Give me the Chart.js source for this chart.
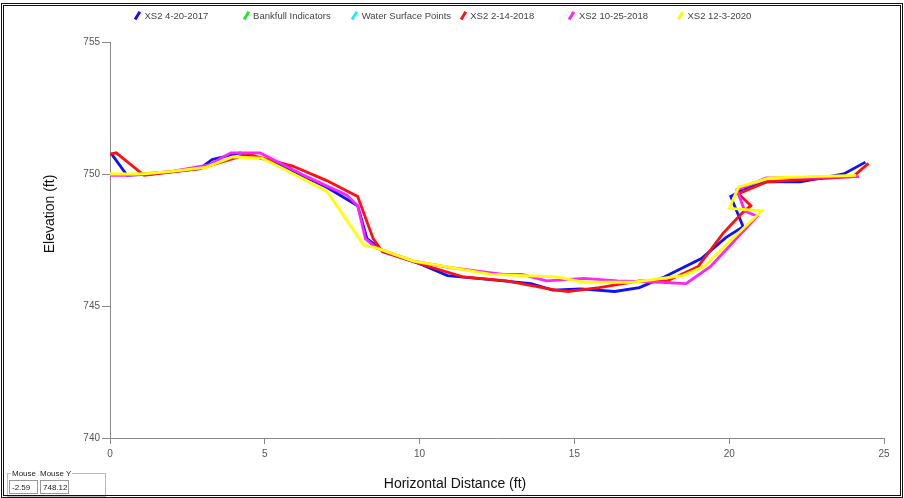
<!DOCTYPE html>
<html>
<head>
<meta charset="utf-8">
<script src="https://cdn.jsdelivr.net/npm/chart.js@4/dist/chart.umd.min.js"></script>
<style>
  body { margin: 0; background: #fff; font-family: "Liberation Sans", Arial, sans-serif; }
  #wrap { position: relative; width: 904px; height: 498px; overflow: hidden; }
  #frame { position: absolute; left: 1px; top: 3px; width: 896px; height: 489px; border: 3px double #111; pointer-events: none; }
  #legend { position: absolute; left: 133px; top: 10px; display: grid; grid-template-columns: repeat(6, 108.6px); font-size: 9.5px; color: #444; }
  .item { display: flex; align-items: center; white-space: nowrap; }
  .icon { display: inline-block; width: 2.5px; height: 9px; margin: 0 6px 0 3px; transform: rotate(32deg); }
  #mouse { position: absolute; left: 7px; top: 473px; width: 97px; height: 22px; border: 1px solid #bbb; font-size: 8px; color: #222; }
  #mouse .lbl { position: absolute; top: -5px; background: #fff; padding: 0 1px; }
  #mouse .val { position: absolute; top: 6px; height: 14px; border: 1px solid #999; line-height: 13px; padding-left: 2px; box-sizing: border-box; }
</style>
</head>
<body>
<div id="wrap">
  <canvas id="chart" width="904" height="498"></canvas>
  <div id="legend"></div>
  <div id="mouse">
    <span class="lbl" style="left:3px">Mouse X</span>
    <span class="lbl" style="left:31px">Mouse Y</span>
    <span class="val" style="left:1px;width:29px">-2.59</span>
    <span class="val" style="left:32px;width:29px">748.12</span>
  </div>
  <div id="frame"></div>
</div>
<script>
// --- data (distance ft, elevation ft) ---
const seriesNames = ["XS2 4-20-2017", "Bankfull Indicators", "Water Surface Points", "XS2 2-14-2018", "XS2 10-25-2018", "XS2 12-3-2020"];
const seriesColors = ["#1010ff", "#22e622", "#22eeee", "#ff1010", "#ff22ff", "#ffff00"];

const xTicks = [0, 5, 10, 15, 20, 25];
const yTicks = [740, 745, 750, 755];

const blueX = [0.03, 0.55, 1.3, 2.9, 3.3, 4.2, 5.2, 7.0, 8.0, 8.3, 8.8, 10.0, 10.9, 12.3, 13.6, 14.3, 15.2, 16.3, 17.1, 17.9, 19.1, 19.9, 20.45, 20.05, 20.45, 21.2, 22.3, 23.7, 24.4];
const blueY = [750.79, 749.95, 750.0, 750.2, 750.55, 750.8, 750.5, 749.5, 748.8, 747.55, 747.1, 746.6, 746.15, 746.0, 745.85, 745.6, 745.65, 745.55, 745.7, 746.1, 746.8, 747.6, 748.0, 749.15, 749.4, 749.7, 749.7, 750.0, 750.45];

const redX = [0, 0.2, 1.1, 2.9, 4.45, 5.9, 7.0, 8.0, 8.5, 8.8, 10.0, 11.4, 12.8, 14.4, 14.8, 15.8, 17.1, 18.0, 19.0, 19.8, 20.4, 20.7, 20.3, 21.2, 24.0, 24.5];
const redY = [750.75, 750.8, 749.95, 750.2, 750.75, 750.3, 749.75, 749.15, 747.55, 747.05, 746.6, 746.1, 745.95, 745.6, 745.55, 745.7, 745.95, 745.95, 746.5, 747.75, 748.5, 748.8, 749.25, 749.7, 749.9, 750.4];

const magentaX = [0, 0.5, 2.0, 3.2, 3.9, 4.5, 4.85, 6.35, 7.65, 8.0, 8.25, 8.6, 9.8, 11.0, 12.7, 13.3, 14.1, 15.3, 16.4, 17.8, 18.6, 19.4, 20.9, 20.5, 20.25, 21.2, 24.2];
const magentaY = [749.95, 749.95, 750.1, 750.35, 750.8, 750.8, 750.8, 749.9, 749.2, 748.8, 747.55, 747.2, 746.7, 746.45, 746.2, 746.2, 745.95, 746.05, 745.95, 745.9, 745.85, 746.5, 748.4, 748.6, 749.4, 749.85, 749.9];

const yellowX = [0, 1.0, 2.0, 3.1, 3.95, 4.9, 5.6, 7.0, 8.2, 8.6, 9.8, 12.3, 14.4, 15.3, 16.9, 18.5, 19.2, 20.1, 21.05, 20.0, 20.3, 21.3, 24.1];
const yellowY = [750.0, 750.0, 750.1, 750.25, 750.65, 750.6, 750.2, 749.35, 747.3, 747.2, 746.7, 746.2, 746.1, 745.9, 745.9, 746.15, 746.5, 747.55, 748.6, 748.7, 749.5, 749.85, 749.95];

function toPoints(xs, ys) {
  return xs.map((x, i) => ({ x: x, y: ys[i] }));
}

const seriesData = [
  toPoints(blueX, blueY),
  [],
  [],
  toPoints(redX, redY),
  toPoints(magentaX, magentaY),
  toPoints(yellowX, yellowY),
];
// draw order: yellow on top, then magenta, red, blue
const drawOrder = [4, 6, 6, 3, 2, 1];

// --- legend (HTML) ---
const legendEl = document.getElementById("legend");
seriesNames.forEach((name, i) => {
  const item = document.createElement("div");
  item.className = "item";
  const icon = document.createElement("span");
  icon.className = "icon";
  icon.style.background = seriesColors[i];
  item.appendChild(icon);
  item.appendChild(document.createTextNode(name));
  legendEl.appendChild(item);
});

// --- axis titles drawn on the canvas ---
const axisTitles = {
  id: "axisTitles",
  afterDraw(chart) {
    const ctx = chart.ctx;
    ctx.save();
    ctx.fillStyle = "#111";
    ctx.font = '14px "Liberation Sans", Arial, sans-serif';
    ctx.textAlign = "center";
    ctx.textBaseline = "middle";
    ctx.fillText("Horizontal Distance (ft)", 455, 484);
    ctx.translate(50, 214);
    ctx.rotate(-Math.PI / 2);
    ctx.fillText("Elevation (ft)", 0, 0);
    ctx.restore();
  },
};

const ctx = document.getElementById("chart").getContext("2d");
new Chart(ctx, {
  type: "line",
  data: {
    datasets: seriesNames.map((name, i) => ({
      label: name,
      data: seriesData[i],
      borderColor: seriesColors[i],
      backgroundColor: seriesColors[i],
      borderWidth: 2.8,
      pointRadius: 0,
      tension: 0,
      fill: false,
      order: drawOrder[i],
    })),
  },
  options: {
    responsive: false,
    animation: false,
    layout: { padding: { top: 42, right: 20, bottom: 0, left: 0 } },
    plugins: { legend: { display: false }, tooltip: { enabled: false } },
    scales: {
      x: {
        type: "linear",
        min: 0,
        max: 25,
        afterBuildTicks: (s) => { s.ticks = xTicks.map((v) => ({ value: v })); },
        afterFit: (s) => { s.height = 60; },
        border: { display: true, color: "#8a8a8a", width: 1 },
        grid: { display: true, drawOnChartArea: false, drawTicks: true, tickLength: 6, color: "#8a8a8a" },
        ticks: { color: "#555", font: { size: 10, family: '"Liberation Sans", Arial' }, padding: 4, maxRotation: 0 },
      },
      y: {
        type: "linear",
        min: 740,
        max: 755,
        afterBuildTicks: (s) => { s.ticks = yTicks.map((v) => ({ value: v })); },
        afterFit: (s) => { s.width = 110; },
        border: { display: true, color: "#8a8a8a", width: 1 },
        grid: { display: true, drawOnChartArea: false, drawTicks: true, tickLength: 8, color: "#8a8a8a" },
        ticks: { color: "#555", font: { size: 10, family: '"Liberation Sans", Arial' }, padding: 2 },
      },
    },
  },
  plugins: [axisTitles],
});
</script>
</body>
</html>
